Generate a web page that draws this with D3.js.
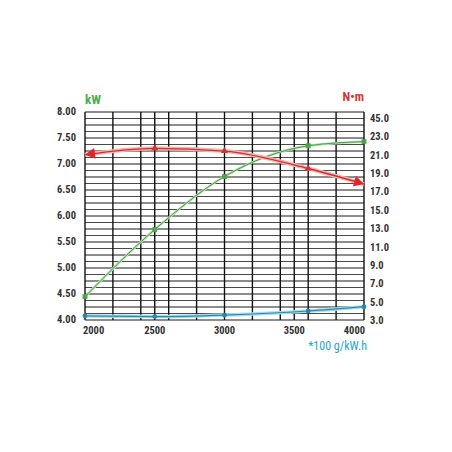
<!DOCTYPE html>
<html><head><meta charset="utf-8">
<script src="https://cdn.jsdelivr.net/npm/d3@7"></script>
<style>body{margin:0;background:#fff}svg{display:block}</style></head>
<body>
<svg id="c" width="452" height="452"></svg>
<script>
// ---- data ----
const rpm = [2000, 2500, 3000, 3600, 4000];
const powerKW = [4.45, 5.74, 6.76, 7.35, 7.43];
const torqueNm = [21.0, 21.7, 21.4, 19.5, 17.8];
const fuelConsumption = [3.44, 3.37, 3.54, 3.98, 4.45];
const xGridValues = [2000, 2200, 2400, 2500, 2600, 2800, 3000, 3200, 3400, 3500, 3600, 3800, 4000];
const xTickValues = [2000, 2500, 3000, 3500, 4000];
const leftTickValues = [4, 4.5, 5, 5.5, 6, 6.5, 7, 7.5, 8];
const rightTickValues = [3, 5, 7, 9, 11, 13, 15, 17, 19, 21, 23, 25];
const rightTickLabels = ["3.0", "5.0", "7.0", "9.0", "11.0", "13.0", "15.0", "17.0", "19.0", "21.0", "23.0", "45.0"];
const leftUnit = "kW", rightUnit = "N•m", fuelUnit = "*100 g/kW.h";

// ---- layout ----
const svg = d3.select("#c");
const L = 85, R = 364, T = 112, B = 320;
const x = d3.scaleLinear().domain([2000, 4000]).range([L, R]);
const yL = d3.scaleLinear().domain([4, 8]).range([B, T]);
const yR = d3.scaleLinear().domain([3, 25]).range([B, 118]);
const font = "'Liberation Sans Narrow','Arial Narrow','Roboto Condensed','Liberation Sans',sans-serif";

svg.append("rect").attr("width", 452).attr("height", 452).attr("fill", "#fff");

// horizontal grid
const hVals = d3.range(33).map(i => 4 + i * 0.125);
svg.append("g").selectAll("line").data(hVals).join("line")
  .attr("x1", L).attr("x2", R)
  .attr("y1", d => yL(d)).attr("y2", d => yL(d))
  .attr("stroke", (d, i) => i % 2 ? "#4a4a4a" : "#1a1a1a").attr("stroke-width", 1);
// vertical grid
svg.append("g").selectAll("line").data(xGridValues).join("line")
  .attr("x1", d => x(d)).attr("x2", d => x(d))
  .attr("y1", T).attr("y2", B)
  .attr("stroke", "#111").attr("stroke-width", 1.4);

// left axis labels
svg.append("g").selectAll("text").data(leftTickValues).join("text")
  .attr("x", 76).attr("y", d => yL(d) + 3)
  .attr("text-anchor", "end").attr("font-family", font).attr("font-weight", "bold")
  .attr("font-size", 10.5).attr("fill", "#333").text(d => d.toFixed(2));
// right axis labels
svg.append("g").selectAll("text").data(rightTickValues).join("text")
  .attr("x", 370).attr("y", (d) => yR(d) + 4)
  .attr("text-anchor", "start").attr("font-family", font).attr("font-weight", "bold")
  .attr("font-size", 10.5).attr("fill", "#333").text((d, i) => rightTickLabels[i]);
// x labels
svg.append("g").selectAll("text").data(xTickValues).join("text")
  .attr("x", (d, i) => i === 0 ? x(d) - 2 : i === xTickValues.length - 1 ? x(d) + 1 : x(d))
  .attr("y", 334)
  .attr("text-anchor", (d, i) => i === 0 ? "start" : i === xTickValues.length - 1 ? "end" : "middle")
  .attr("font-family", font).attr("font-weight", "bold")
  .attr("font-size", 10.5).attr("fill", "#333").text(d => d);

// units
svg.append("text").attr("x", 85).attr("y", 104).attr("font-family", font).attr("font-weight", "bold")
  .attr("font-size", 13).attr("fill", "#4fae4a").text(leftUnit);
svg.append("text").attr("x", 364).attr("y", 101).attr("text-anchor", "end").attr("font-family", font).attr("font-weight", "bold")
  .attr("font-size", 12.5).attr("fill", "#d63535").text(rightUnit);
svg.append("text").attr("x", 367).attr("y", 350).attr("text-anchor", "end").attr("font-family", font)
  .attr("font-size", 12).attr("fill", "#25a3da").text(fuelUnit);

const curve = d3.curveMonotoneX;

// blue (fuel)
const fuelPts = rpm.map((r, i) => [x(r), yR(fuelConsumption[i])]);
const lineGen = d3.line().curve(curve);
svg.append("path").attr("d", lineGen(fuelPts)).attr("fill", "none")
  .attr("stroke", "#a8dcec").attr("stroke-width", 3.5);
svg.append("path").attr("d", lineGen(fuelPts)).attr("fill", "none")
  .attr("stroke", "#2b86ad").attr("stroke-width", 1.2);
svg.append("g").selectAll("path").data(fuelPts).join("path")
  .attr("transform", d => `translate(${d[0]},${d[1]})`)
  .attr("d", d3.symbol(d3.symbolCircle, 18)).attr("fill", "#2b86ad");

// green (power)
const powPts = rpm.map((r, i) => [x(r), yL(powerKW[i])]);
svg.append("path").attr("d", lineGen(powPts)).attr("fill", "none")
  .attr("stroke", "#b9e0b4").attr("stroke-width", 2.5);
svg.append("path").attr("d", lineGen(powPts)).attr("fill", "none")
  .attr("stroke", "#45a445").attr("stroke-width", 1);
svg.append("g").selectAll("rect").data(powPts).join("rect")
  .attr("x", d => d[0] - 2.5).attr("y", d => d[1] - 2.5).attr("width", 5).attr("height", 5)
  .attr("fill", "#47a247").attr("opacity", 0.9);

// red (torque)
const torPts = rpm.map((r, i) => [x(r), yR(torqueNm[i])]);
svg.append("path").attr("d", lineGen(torPts)).attr("fill", "none")
  .attr("stroke", "#f5b3b3").attr("stroke-width", 4);
const redPath = svg.append("path").attr("d", lineGen(torPts)).attr("fill", "none")
  .attr("stroke", "#d42f2f").attr("stroke-width", 1.3);
svg.append("g").selectAll("path").data(torPts.slice(1, -1)).join("path")
  .attr("transform", d => `translate(${d[0]},${d[1]})`)
  .attr("d", d3.symbol(d3.symbolTriangle, 22)).attr("fill", "#d42f2f");
// arrowheads at ends
const node = redPath.node(), len = node.getTotalLength();
function arrow(tipLen, backLen) {
  const tip = node.getPointAtLength(tipLen), back = node.getPointAtLength(backLen);
  const ang = Math.atan2(tip.y - back.y, tip.x - back.x) * 180 / Math.PI;
  svg.append("path").attr("d", "M0,0 L-10,-5.5 L-10,5.5 Z")
    .attr("transform", `translate(${tip.x},${tip.y}) rotate(${ang})`)
    .attr("fill", "#e0262b");
}
arrow(0, 6);
arrow(len, len - 6);
</script>
</body></html>
